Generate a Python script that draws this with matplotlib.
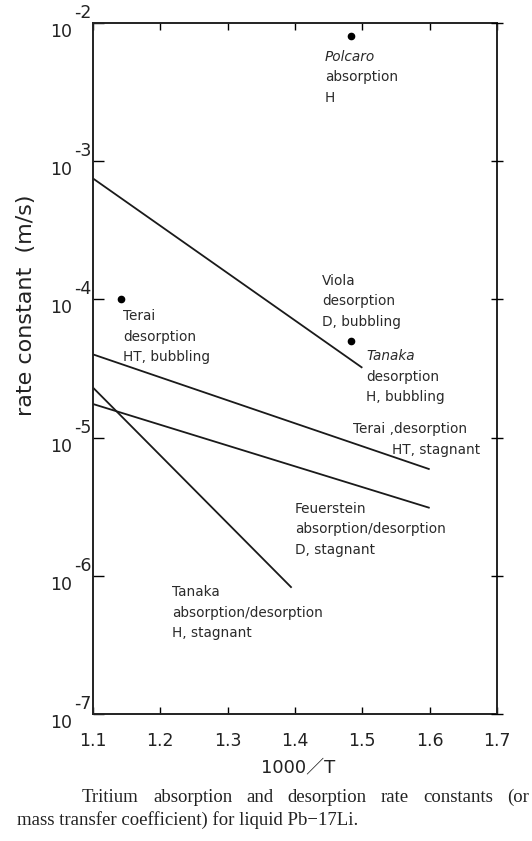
import matplotlib
matplotlib.use("Agg")
import matplotlib.pyplot as plt
import numpy as np
from matplotlib.transforms import blended_transform_factory, offset_copy

# ---- data (x = 1000/T, y = rate constant m/s) ----
viola_x = [1.10, 1.50]
viola_y = [7.5e-4, 3.2e-5]
terai_stag_x = [1.10, 1.60]
terai_stag_y = [4.0e-5, 5.9e-6]
feuer_x = [1.10, 1.60]
feuer_y = [1.75e-5, 3.1e-6]
tanaka_stag_x = [1.10, 1.395]
tanaka_stag_y = [2.3e-5, 8.2e-7]
point_x = [1.483, 1.483, 1.141]
point_y = [8.1e-3, 5.0e-5, 1.0e-4]

xticks = [1.1, 1.2, 1.3, 1.4, 1.5, 1.6, 1.7]
xtick_labels = ["1.1", "1.2", "1.3", "1.4", "1.5", "1.6", "1.7"]
ydecades = [-2, -3, -4, -5, -6, -7]

caption1 = "Tritium absorption and desorption rate constants (or"
caption2 = "mass transfer coefficient) for liquid Pb\u221217Li."

W, H = 532, 841
fig = plt.figure(figsize=(W / 100, H / 100), dpi=100)
L, R, T, B = 93, 497, 23, 714
ax = fig.add_axes([L / W, 1 - B / H, (R - L) / W, (B - T) / H])

ax.set_yscale("log")
ax.set_xlim(1.1, 1.7)
ax.set_ylim(1e-7, 1e-2)

lc = "#1a1a1a"
for xs, ys in [(viola_x, viola_y), (terai_stag_x, terai_stag_y),
               (feuer_x, feuer_y), (tanaka_stag_x, tanaka_stag_y)]:
    ax.plot(xs, ys, color=lc, lw=1.3, solid_capstyle="butt")
ax.plot(point_x, point_y, "o", color="black", ms=4.5, clip_on=False)

for s in ax.spines.values():
    s.set_linewidth(1.4)
    s.set_color("#222222")

ax.set_xticks(xticks)
ax.set_xticklabels(xtick_labels, fontsize=12.5, color="#222222")
ax.tick_params(axis="x", which="major", direction="in", length=5, width=1,
               top=True, bottom=True, pad=13)
ax.set_yticks([10.0 ** d for d in ydecades])
ax.set_yticklabels([])
ax.minorticks_off()
ax.tick_params(axis="y", which="major", direction="in", length=8, width=1,
               left=True, right=False)
# right-side ticks crossing the spine
axr = ax.twinx()
axr.set_yscale("log")
axr.set_ylim(1e-7, 1e-2)
axr.set_yticks([10.0 ** d for d in ydecades])
axr.set_yticklabels([])
axr.minorticks_off()
axr.tick_params(axis="y", which="major", direction="inout", length=9, width=1)
for s in axr.spines.values():
    s.set_visible(False)

# y tick labels as "10" with a large exponent
bt = blended_transform_factory(ax.transAxes, ax.transData)
for d in ydecades:
    tb = offset_copy(bt, fig=fig, x=-21, y=-9, units="dots")
    ax.text(0, 10.0 ** d, "10", transform=tb, ha="right", va="center",
            fontsize=12.5, color="#222222")
    te = offset_copy(bt, fig=fig, x=-19, y=10, units="dots")
    ax.text(0, 10.0 ** d, str(d), transform=te, ha="left", va="center",
            fontsize=12.5, color="#222222")

fig.text(26 / W, 1 - 305 / H, "rate constant  (m/s)", rotation=90,
         ha="center", va="center", fontsize=16, color="#222222")

fig.text(298 / W, 1 - 767 / H, "1000／T", ha="center", va="center",
         fontsize=13, color="#222222",
         family=["DejaVu Sans", "Noto Sans CJK JP"])

# annotations (pixel positions -> axes fraction)
def label(px, py, lines, italic_first=False, dy=20.5):
    for i, txt in enumerate(lines):
        fx = (px - L) / (R - L)
        fy = (B - (py + i * dy)) / (B - T)
        style = "italic" if (italic_first and i == 0) else "normal"
        ax.text(fx, fy, txt, transform=ax.transAxes, ha="left", va="center",
                fontsize=9.8, color="#2a2a2a", style=style)

label(325, 57, ["Polcaro", "absorption", "H"], italic_first=True)
label(322, 281, ["Viola", "desorption", "D, bubbling"])
label(123, 316, ["Terai", "desorption", "HT, bubbling"])
label(366, 356, ["Tanaka", "desorption", "H, bubbling"], italic_first=True)
label(353, 429, ["Terai ,desorption"])
label(392, 450, ["HT, stagnant"])
label(295, 509, ["Feuerstein", "absorption/desorption", "D, stagnant"])
label(172, 592, ["Tanaka", "absorption/desorption", "H, stagnant"])

# caption: first line justified, second line ragged
cap_kw = dict(ha="left", va="baseline", fontsize=13.5,
              family="Liberation Serif", color="#222222")
renderer = fig.canvas.get_renderer()
words = caption1.split(" ")
arts = [fig.text(0, 0, w_, **cap_kw) for w_ in words]
widths = [a.get_window_extent(renderer).width for a in arts]
x0, x1 = 82, 529
gap = (x1 - x0 - sum(widths)) / (len(words) - 1)
xpos = x0
for a, wd in zip(arts, widths):
    a.set_position((xpos / W, 1 - 802 / H))
    xpos += wd + gap
fig.text(17 / W, 1 - 825 / H, caption2, **cap_kw)

fig.savefig("out.png", dpi=100)
